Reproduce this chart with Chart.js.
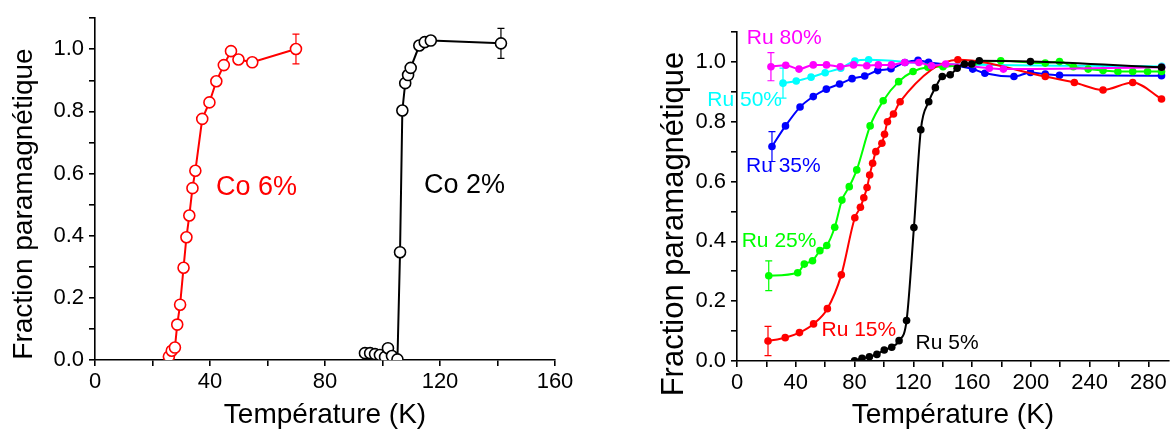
<!DOCTYPE html>
<html>
<head>
<meta charset="utf-8">
<script src="https://cdn.jsdelivr.net/npm/chart.js@4.4.1/dist/chart.umd.min.js"></script>
<style>
body { margin: 0; background: #fff; width: 1173px; height: 435px; overflow: hidden; position: relative; }
#left { position: absolute; left: 0; top: 0; }
#right { position: absolute; left: 590px; top: 0; }
</style>
</head>
<body>
<canvas id="left" width="580" height="435"></canvas>
<canvas id="right" width="583" height="435"></canvas>
<script>
// ---- data ----
// left panel: Co substitution
const co6T = [25.7, 26.7, 27.8, 28.6, 29.6, 30.8, 31.8, 32.8, 33.9, 34.9, 37.3, 39.8, 42.2, 44.8, 47.3, 49.9, 54.7, 69.9];
const co6F = [0.011, 0.03, 0.04, 0.114, 0.178, 0.297, 0.395, 0.465, 0.553, 0.609, 0.776, 0.829, 0.897, 0.949, 0.994, 0.967, 0.958, 1.001];
const co2T = [93.9, 95.7, 97.4, 99.1, 100.9, 101.9, 103.3, 105.2, 106.1, 106.9, 107.9, 108.9, 109.8, 112.8, 114.7, 116.8, 141.2];
const co2F = [0.022, 0.022, 0.019, 0.016, 0.01, 0.038, 0.013, 0.002, 0.347, 0.803, 0.891, 0.917, 0.94, 1.012, 1.023, 1.028, 1.019];

// right panel: Ru substitution
const ru80T = [23.1, 33.2, 42.2, 51.9, 60.9, 70.3, 79.3, 88.3, 96.2, 105.1, 114.1, 123.8, 132.3, 142, 171.7, 181.3, 289];
const ru80F = [0.984, 0.989, 0.976, 0.99, 0.99, 0.984, 0.99, 0.987, 0.99, 0.99, 0.998, 0.998, 0.987, 0.993, 0.979, 0.976, 0.982];
const ru50T = [31.3, 40.3, 50.4, 60.0, 70.6, 80.2, 89.6, 130, 289];
const ru50F = [0.929, 0.936, 0.949, 0.964, 0.979, 1.003, 1.007, 0.995, 0.985];
const ru35T = [23.8, 33.0, 42.9, 51.9, 60.8, 69.8, 78.3, 86.9, 95.8, 104.8, 114.3, 123.2, 130.4, 160.4, 168.7, 188.5, 199.7, 209.8, 219.5, 288.9];
const ru35F = [0.717, 0.786, 0.849, 0.884, 0.909, 0.926, 0.944, 0.953, 0.971, 0.977, 0.998, 1.005, 0.999, 0.976, 0.962, 0.951, 0.965, 0.959, 0.955, 0.954];
const ru25T = [21.6, 41.3, 45.8, 51.4, 56.4, 61.1, 66.5, 71.4, 76.4, 81.5, 90.6, 99.5, 110.0, 119.8, 129.9, 140.2, 160.4, 179.5, 209.8, 219.5, 228.9, 239, 249.1, 259.2, 269.3, 279.4, 288.9];
const ru25F = [0.285, 0.295, 0.324, 0.335, 0.369, 0.386, 0.447, 0.538, 0.583, 0.639, 0.786, 0.87, 0.934, 0.968, 0.982, 0.984, 0.993, 1.004, 0.996, 1.001, 0.984, 0.976, 0.971, 0.968, 0.968, 0.968, 0.968];
const ru15T = [21.1, 32.8, 42.5, 52.1, 61.5, 71.0, 80.2, 84.0, 86.3, 88.5, 90.3, 92.3, 94.5, 98.6, 100.4, 102.4, 106.5, 111.0, 150.3, 209.8, 229.6, 249.1, 269.3, 288.9];
const ru15F = [0.067, 0.078, 0.095, 0.124, 0.175, 0.288, 0.479, 0.514, 0.546, 0.58, 0.622, 0.661, 0.70, 0.728, 0.758, 0.8, 0.826, 0.867, 1.007, 0.951, 0.931, 0.906, 0.931, 0.876];
const ru5T = [80, 85.1, 90.1, 95.2, 100.2, 105.3, 110.3, 115.4, 120.4, 125.1, 130.5, 135, 139.7, 145.1, 149.8, 154.8, 159.7, 164.9, 199.7, 288.9];
const ru5F = [0.001, 0.009, 0.014, 0.022, 0.037, 0.046, 0.068, 0.135, 0.446, 0.773, 0.867, 0.914, 0.951, 0.957, 0.979, 0.993, 0.993, 1.004, 1.001, 0.982];

const xTitle = 'Température (K)';
const yTitle = 'Fraction paramagnétique';

const FONT = "'Liberation Sans', Arial, sans-serif";
Chart.defaults.font.family = FONT;
Chart.defaults.color = '#000';

function pts(xs, ys) {
    return xs.map((x, i) => ({ x: x, y: ys[i] }));
}

// error bar on one point of a dataset (drawn under the markers)
const errorBars = {
    id: 'errorBars',
    beforeDatasetsDraw(chart) {
        const ctx = chart.ctx;
        const xs = chart.scales.x, ys = chart.scales.y;
        chart.data.datasets.forEach(ds => {
            if (!ds.errBar) return;
            const p = ds.data[ds.errBar.index];
            const px = xs.getPixelForValue(p.x);
            const top = ys.getPixelForValue(p.y + ds.errBar.value);
            const bot = ys.getPixelForValue(p.y - ds.errBar.value);
            ctx.save();
            ctx.strokeStyle = ds.borderColor;
            ctx.lineWidth = 1.2;
            ctx.beginPath();
            ctx.moveTo(px, top); ctx.lineTo(px, bot);
            ctx.moveTo(px - 3.5, top); ctx.lineTo(px + 3.5, top);
            ctx.moveTo(px - 3.5, bot); ctx.lineTo(px + 3.5, bot);
            ctx.stroke();
            ctx.restore();
        });
    }
};

// text labels next to the curves + the rotated y title
const curveLabels = {
    id: 'curveLabels',
    afterDraw(chart, args, opts) {
        const ctx = chart.ctx;
        ctx.save();
        ctx.font = opts.size + 'px ' + FONT;
        ctx.textBaseline = 'middle';
        ctx.textAlign = 'left';
        opts.items.forEach(it => {
            ctx.fillStyle = it.color;
            ctx.fillText(it.text, chart.scales.x.getPixelForValue(it.x), chart.scales.y.getPixelForValue(it.y));
        });
        // y axis title, centred where the original had it
        ctx.translate(opts.yTitle.cx, opts.yTitle.cy);
        ctx.rotate(-Math.PI / 2);
        ctx.font = opts.yTitle.size + 'px ' + FONT;
        ctx.textAlign = 'center';
        ctx.fillStyle = '#000';
        ctx.fillText(yTitle, 0, 0);
        ctx.restore();
    }
};

function xAxis(max, labelEvery, h) {
    return {
        type: 'linear', min: 0, max: max,
        border: { color: '#000', width: 1.6 },
        grid: { drawOnChartArea: false, drawTicks: true, tickLength: 6, color: '#000', lineWidth: 1.6 },
        ticks: {
            stepSize: 20, includeBounds: false, autoSkip: false, maxRotation: 0, padding: 3,
            font: { size: 22 },
            callback: v => (v % labelEvery === 0 ? String(v) : '')
        },
        title: { display: true, text: xTitle, font: { size: 28 }, padding: { top: 0, bottom: 3 } },
        afterFit: s => { s.height = h; }
    };
}

function yAxis(w) {
    return {
        min: 0, max: 1.1,
        border: { color: '#000', width: 1.6 },
        grid: { drawOnChartArea: false, drawTicks: true, tickLength: 6, color: '#000', lineWidth: 1.6 },
        ticks: {
            stepSize: 0.1, includeBounds: false, autoSkip: false, padding: 5,
            font: { size: 22 },
            callback: v => (Math.round(v * 10) % 2 === 0 ? v.toFixed(1) : '')
        },
        title: { display: false },
        afterFit: s => { s.width = w; }
    };
}

function openSeries(xs, ys, color, err) {
    return {
        data: pts(xs, ys), borderColor: color, borderWidth: 2,
        pointRadius: 5.5, pointBackgroundColor: '#fff', pointBorderColor: color, pointBorderWidth: 1.6,
        tension: 0, errBar: err
    };
}

function filledSeries(xs, ys, color, err) {
    return {
        data: pts(xs, ys), borderColor: color, borderWidth: 2,
        pointRadius: 3.8, pointBackgroundColor: color, pointBorderWidth: 0,
        tension: 0.4, cubicInterpolationMode: 'monotone', errBar: err
    };
}

new Chart(document.getElementById('left'), {
    type: 'line',
    data: {
        datasets: [
            openSeries(co6T, co6F, '#ff0000', { index: co6T.length - 1, value: 0.048 }),
            openSeries(co2T, co2F, '#000000', { index: co2T.length - 1, value: 0.048 })
        ]
    },
    options: {
        responsive: false, animation: false,
        layout: { padding: { top: 16, right: 25, left: 0, bottom: 0 } },
        scales: { x: xAxis(160, 40, 75), y: yAxis(95) },
        plugins: {
            legend: { display: false }, tooltip: { enabled: false },
            curveLabels: {
                size: 27,
                yTitle: { cx: 24, cy: 204, size: 28 },
                items: [
                    { text: 'Co 6%', x: 42.1, y: 0.555, color: '#ff0000' },
                    { text: 'Co 2%', x: 114.4, y: 0.56, color: '#000000' }
                ]
            }
        }
    },
    plugins: [errorBars, curveLabels]
});

new Chart(document.getElementById('right'), {
    type: 'line',
    data: {
        datasets: [
            filledSeries(ru5T, ru5F, '#000000'),
            filledSeries(ru80T, ru80F, '#ff00ff', { index: 0, value: 0.047 }),
            filledSeries(ru15T, ru15F, '#ff0000', { index: 0, value: 0.049 }),
            filledSeries(ru25T, ru25F, '#00ff00', { index: 0, value: 0.05 }),
            filledSeries(ru35T, ru35F, '#0000ff', { index: 0, value: 0.05 }),
            filledSeries(ru50T, ru50F, '#00ffff', { index: 0, value: 0.05 })
        ]
    },
    options: {
        responsive: false, animation: false,
        layout: { padding: { top: 32, right: 0, left: 0, bottom: 0 } },
        scales: { x: xAxis(294, 40, 74), y: yAxis(147) },
        plugins: {
            legend: { display: false }, tooltip: { enabled: false },
            curveLabels: {
                size: 21,
                yTitle: { cx: 84, cy: 224, size: 31 },
                items: [
                    { text: 'Ru 80%', x: 6.7, y: 1.078, color: '#ff00ff' },
                    { text: 'Ru 50%', x: -20.2, y: 0.873, color: '#00ffff' },
                    { text: 'Ru 35%', x: 6.1, y: 0.65, color: '#0000ff' },
                    { text: 'Ru 25%', x: 3.2, y: 0.399, color: '#00ff00' },
                    { text: 'Ru 15%', x: 57.5, y: 0.104, color: '#ff0000' },
                    { text: 'Ru 5%', x: 121.5, y: 0.061, color: '#000000' }
                ]
            }
        }
    },
    plugins: [errorBars, curveLabels]
});
</script>
</body>
</html>
